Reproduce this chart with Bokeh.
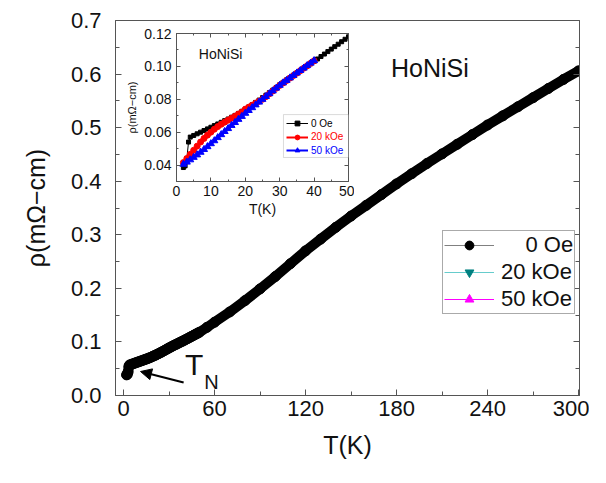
import math
from bokeh.plotting import figure
from bokeh.models import (Range1d, FixedTicker, LinearAxis, Legend, LegendItem,
                          Label, Arrow, NormalHead, BoxAnnotation, CustomLabelingPolicy)
from bokeh.layouts import column
from bokeh.embed import file_html
from bokeh.resources import INLINE

FONT = "Liberation Sans"

# ---------------- data ----------------
T0 = [2, 2.5, 3, 3.5, 4, 5, 6, 7, 8, 9, 10, 11, 12, 13, 14, 15, 16, 17, 18, 19, 20,
      21, 22, 23, 24, 25, 26, 27, 28, 29, 30, 31, 32, 33, 34, 35, 36, 37, 38, 39, 40,
      41, 42, 43, 44, 45, 46, 47, 48, 49, 50, 55, 60, 70, 80, 90, 100, 110, 120, 130,
      140, 150, 160, 170, 180, 190, 200, 210, 220, 230, 240, 250, 260, 270, 280, 290, 300]
R0 = [0.0385, 0.0395, 0.0440, 0.0540, 0.0570, 0.0580, 0.0590, 0.0600, 0.0610, 0.0620,
      0.0630, 0.0640, 0.0650, 0.0660, 0.0670, 0.0680, 0.0691, 0.0702, 0.0714, 0.0727,
      0.0740, 0.0753, 0.0767, 0.0781, 0.0795, 0.0810, 0.0825, 0.0840, 0.0856, 0.0872,
      0.0888, 0.0903, 0.0918, 0.0932, 0.0946, 0.0960, 0.0974, 0.0988, 0.1002, 0.1016,
      0.1030, 0.1045, 0.1060, 0.1075, 0.1090, 0.1105, 0.1120, 0.1135, 0.1150, 0.1165,
      0.1180, 0.1272, 0.1368, 0.156, 0.177, 0.199, 0.222, 0.246, 0.270, 0.292,
      0.314, 0.335, 0.355, 0.375, 0.395, 0.414, 0.433, 0.451, 0.469, 0.487,
      0.505, 0.522, 0.539, 0.556, 0.573, 0.590, 0.606]

T20 = [2, 3, 4, 5, 6, 7, 8, 9, 10, 11, 12, 13, 14, 15, 16, 17, 18, 19, 20, 21, 22, 23,
       24, 25, 26, 27, 28, 29, 30, 31, 32, 33, 34, 35, 36, 37, 38, 39, 40]
R20 = [0.0415, 0.0440, 0.0465, 0.0490, 0.0515, 0.0540, 0.0562, 0.0582, 0.0600, 0.0618,
       0.0634, 0.0648, 0.0661, 0.0673, 0.0685, 0.0697, 0.0710, 0.0722, 0.0740, 0.0752,
       0.0764, 0.0776, 0.0788, 0.0800, 0.0816, 0.0833, 0.0850, 0.0867, 0.0884, 0.0899,
       0.0914, 0.0929, 0.0944, 0.0959, 0.0974, 0.0989, 0.1004, 0.1019, 0.1034]

T50 = [2, 3, 4, 5, 6, 7, 8, 9, 10, 11, 12, 13, 14, 15, 16, 17, 18, 19, 20, 21, 22, 23,
       24, 25, 26, 27, 28, 29, 30, 31, 32, 33, 34, 35, 36, 37, 38, 39, 40]
R50 = [0.0405, 0.0418, 0.0432, 0.0447, 0.0462, 0.0478, 0.0495, 0.0512, 0.0530, 0.0548,
       0.0567, 0.0585, 0.0604, 0.0622, 0.0641, 0.0659, 0.0678, 0.0696, 0.0715, 0.0732,
       0.0749, 0.0766, 0.0783, 0.0800, 0.0817, 0.0834, 0.0851, 0.0868, 0.0885, 0.0900,
       0.0915, 0.0930, 0.0945, 0.0960, 0.0975, 0.0990, 0.1005, 0.1020, 0.1035]

LABELS = ["0 Oe", "20 kOe", "50 kOe"]

X_TICKS = [0, 60, 120, 180, 240, 300]
X_MINOR = [30, 90, 150, 210, 270]
Y_TICKS = [0.0, 0.1, 0.2, 0.3, 0.4, 0.5, 0.6, 0.7]
Y_TICK_LABELS = ["0.0", "0.1", "0.2", "0.3", "0.4", "0.5", "0.6", "0.7"]
Y_MINOR = [0.05, 0.15, 0.25, 0.35, 0.45, 0.55, 0.65]

IX_TICKS = [0, 10, 20, 30, 40, 50]
IX_MINOR = [5, 15, 25, 35, 45]
IY_TICKS = [0.04, 0.06, 0.08, 0.10, 0.12]
IY_TICK_LABELS = ["0.04", "0.06", "0.08", "0.10", "0.12"]
IY_MINOR = [0.03, 0.05, 0.07, 0.09, 0.11]

AXIS_COLOR = "#555555"
TEXT_COLOR = "#111111"
NB = "\u00a0"

NO_LABELS = CustomLabelingPolicy(code="for (const i of Array.from(indices)) indices.unset(i); return indices;")

def style_axis(ax, fs, lfs):
    ax.axis_line_color = AXIS_COLOR
    ax.major_tick_line_color = AXIS_COLOR
    ax.minor_tick_line_color = AXIS_COLOR
    ax.major_label_text_font = FONT
    ax.major_label_text_color = TEXT_COLOR
    ax.major_label_text_font_size = fs
    ax.axis_label_text_font = FONT
    ax.axis_label_text_font_style = "normal"
    ax.axis_label_text_color = TEXT_COLOR
    ax.axis_label_text_font_size = lfs

def mirror_axis(ticks, minor, tin, min_in):
    ax = LinearAxis(ticker=FixedTicker(ticks=ticks, minor_ticks=minor))
    style_axis(ax, "2px", "2px")
    ax.major_label_policy = NO_LABELS
    ax.major_label_text_alpha = 0
    ax.major_label_standoff = 0
    ax.major_tick_in, ax.major_tick_out = tin, 0
    ax.minor_tick_in, ax.minor_tick_out = min_in, 0
    return ax

# ---------------- main figure ----------------
p = figure(frame_width=464, frame_height=375, x_range=Range1d(-5.3, 300.6), y_range=Range1d(0, 0.7),
           output_backend="svg", toolbar_location=None,
           min_border_left=115, min_border_top=20, min_border_right=10, min_border_bottom=75)
p.grid.visible = False
p.outline_line_color = AXIS_COLOR

xa = p.xaxis[0]
xa.ticker = FixedTicker(ticks=X_TICKS, minor_ticks=X_MINOR)
style_axis(xa, "22px", "25px")
xa.axis_label = "T(K)"
xa.major_tick_in, xa.major_tick_out = 6, 0
xa.minor_tick_in, xa.minor_tick_out = 4, 0
xa.major_label_standoff = 5
xa.axis_label_standoff = 12

ya = p.yaxis[0]
ya.ticker = FixedTicker(ticks=Y_TICKS, minor_ticks=Y_MINOR)
ya.major_label_overrides = {t: l for t, l in zip(Y_TICKS, Y_TICK_LABELS)}
style_axis(ya, "22px", "25px")
ya.axis_label = "ρ(mΩ−cm)"
ya.major_tick_in, ya.major_tick_out = 6, 0
ya.minor_tick_in, ya.minor_tick_out = 4, 0
ya.major_label_standoff = 14
ya.axis_label_standoff = 18

p.add_layout(mirror_axis(Y_TICKS, Y_MINOR, 6, 4), "right")

r0_gray = p.line(T0, R0, line_color="#808080", line_width=1)
p.line(T0, R0, line_color="black", line_width=10, line_join="round", line_cap="round")
r0_pts = p.scatter(T0, R0, marker="circle", size=10, color="black")
r20_line = p.line(T20, R20, line_color="#66cccc", line_width=1, visible=False)
r20_pts = p.scatter(T20, R20, marker="inverted_triangle", size=11, color="#008080", visible=False)
r50_line = p.line(T50, R50, line_color="#ff00ff", line_width=1, visible=False)
r50_pts = p.scatter(T50, R50, marker="triangle", angle=math.pi / 2, size=11, color="#ff00ff", visible=False)

leg = Legend(items=[
    LegendItem(label=NB * 4 + LABELS[0], renderers=[r0_gray, r0_pts]),
    LegendItem(label=LABELS[1], renderers=[r20_line, r20_pts]),
    LegendItem(label=LABELS[2], renderers=[r50_line, r50_pts]),
], location=(327, 81))
leg.label_text_font = FONT
leg.label_text_font_size = "22px"
leg.label_text_color = TEXT_COLOR
leg.glyph_width = 50
leg.glyph_height = 22
leg.label_height = 22
leg.label_standoff = 7
leg.padding = 1
leg.spacing = 1
leg.margin = 0
leg.border_line_color = AXIS_COLOR
leg.border_line_width = 1
leg.inactive_fill_alpha = 0
p.add_layout(leg)

p.add_layout(Label(x=202, y=0.612, text="HoNiSi", text_font=FONT, text_font_size="25px",
                   text_color=TEXT_COLOR, text_align="center", text_baseline="middle"))
p.add_layout(Label(x=46.5, y=0.057, text="T", text_font=FONT, text_font_size="30px",
                   text_color=TEXT_COLOR, text_align="center", text_baseline="middle"))
p.add_layout(Label(x=58.0, y=0.026, text="N", text_font=FONT, text_font_size="20px",
                   text_color=TEXT_COLOR, text_align="center", text_baseline="middle"))
p.add_layout(Arrow(x_start=39.6, y_start=0.0243, x_end=11.2, y_end=0.0448,
                   line_color="black", line_width=2,
                   end=NormalHead(size=11, fill_color="black", line_color="black")))

# ---------------- inset ----------------
# left border equals the main plot's (the column aligns them anyway)
pi = figure(frame_width=172, frame_height=148, x_range=Range1d(0, 50), y_range=Range1d(0.03, 0.12),
            output_backend="svg", toolbar_location=None,
            min_border_left=115, min_border_top=9, min_border_right=6, min_border_bottom=38)
pi.grid.visible = False
pi.outline_line_color = AXIS_COLOR
pi.background_fill_alpha = 0
pi.border_fill_alpha = 0

ixa = pi.xaxis[0]
ixa.ticker = FixedTicker(ticks=IX_TICKS, minor_ticks=IX_MINOR)
style_axis(ixa, "14px", "14px")
ixa.axis_label = "T(K)"
ixa.major_tick_in, ixa.major_tick_out = 4, 0
ixa.minor_tick_in, ixa.minor_tick_out = 2, 0
ixa.major_label_standoff = 4
ixa.axis_label_standoff = 2

iya = pi.yaxis[0]
iya.ticker = FixedTicker(ticks=IY_TICKS, minor_ticks=IY_MINOR)
iya.major_label_overrides = {t: l for t, l in zip(IY_TICKS, IY_TICK_LABELS)}
style_axis(iya, "14px", "11px")
iya.axis_label = "ρ(mΩ−cm)"
iya.major_tick_in, iya.major_tick_out = 4, 0
iya.minor_tick_in, iya.minor_tick_out = 2, 0
iya.major_label_standoff = 5
iya.axis_label_standoff = 3

pi.add_layout(mirror_axis(IY_TICKS, IY_MINOR, 4, 2), "right")
pi.add_layout(mirror_axis(IX_TICKS, IX_MINOR, 4, 2), "above")

i0_line = pi.line(T0, R0, line_color="black", line_width=1)
i0_pts = pi.scatter(T0, R0, marker="square", size=4, color="black")
i20_line = pi.line(T20, R20, line_color="red", line_width=2)
i20_pts = pi.scatter(T20, R20, marker="circle", size=6, color="red")
i50_line = pi.line(T50, R50, line_color="blue", line_width=2)
i50_pts = pi.scatter(T50, R50, marker="triangle", size=7, color="blue")

pi.add_layout(BoxAnnotation(left=31.1, right=50, bottom=0.0446, top=0.0707,
                            fill_color="white", fill_alpha=1,
                            line_color="#888888", line_width=1))
ileg_specs = [(LABELS[0], [i0_line, i0_pts], "black", 51),
              (LABELS[1], [i20_line, i20_pts], "red", 37.5),
              (LABELS[2], [i50_line, i50_pts], "blue", 24)]
for lab, rends, col, yb in ileg_specs:
    lg = Legend(items=[LegendItem(label=lab, renderers=rends)], location=(109, yb))
    lg.label_text_font = FONT
    lg.label_text_font_size = "10px"
    lg.label_text_color = col
    lg.glyph_width = 22
    lg.glyph_height = 12
    lg.label_height = 12
    lg.label_standoff = 3
    lg.padding = 1
    lg.margin = 0
    lg.border_line_alpha = 0
    lg.background_fill_alpha = 0
    pi.add_layout(lg)

pi.add_layout(Label(x=6.5, y=0.1075, text="HoNiSi", text_font=FONT, text_font_size="14px",
                    text_color=TEXT_COLOR, text_align="left", text_baseline="middle"))

pi.styles = {"position": "absolute", "left": "61px", "top": "24px", "z-index": "2"}

layout = column(p, pi)
open("out.html", "w").write(file_html(layout, INLINE))
